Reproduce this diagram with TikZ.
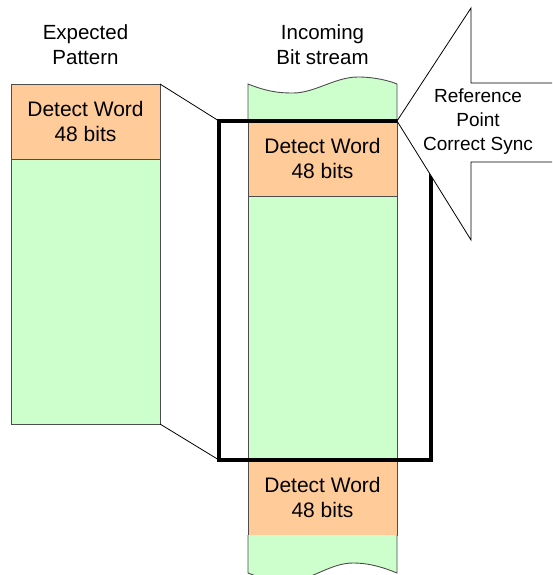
\documentclass[tikz,border=0pt]{standalone}
\usepackage{fontspec}
\setmainfont{Liberation Sans}
\usetikzlibrary{positioning}
\definecolor{wordfill}{HTML}{FFCC99}
\definecolor{bodyfill}{HTML}{CCFFCC}
\definecolor{edgegray}{HTML}{4D4D4D}

\begin{document}
\begin{tikzpicture}[x=1pt, y=-1pt,
    lbl/.style={font=\fontsize{20.5}{25}\selectfont, align=center, inner sep=0pt},
    wordbox/.style={draw=edgegray, fill=wordfill, line width=0.9pt, minimum width=149pt,
      minimum height=75pt, inner sep=0pt, outer sep=0pt, lbl, font=\fontsize{21}{25}\selectfont},
    bodybox/.style={draw=edgegray, fill=bodyfill, line width=0.9pt, minimum width=149pt,
      inner sep=0pt, outer sep=0pt}]
    \useasboundingbox (0,0) rectangle (552,575);
    \clip (0,0) rectangle (552,575);

    % Expected pattern
    \node[lbl] (expLabel) at (85.5,45) {Expected\\Pattern};
    \node[wordbox] (expWord) at (85.5,121.5) {Detect Word\\48 bits};
    \node[bodybox, minimum height=265pt, below=0pt of expWord] (expBody) {};

    % Incoming bit stream
    \node[lbl] (inLabel) at (322.5,45) {Incoming\\Bit stream};
    \filldraw[draw=edgegray, fill=bodyfill, line width=0.9pt]
      (248,121) -- (248,84) .. controls (268,92) and (280,93) .. (293,93)
      .. controls (315,93) and (335,77) .. (358,77)
      .. controls (375,77) and (390,81) .. (397,84) -- (397,121);
    \node[wordbox] (syncWord) at (322.5,158.5) {Detect Word\\48 bits};
    \node[bodybox, minimum height=264pt, below=0pt of syncWord] (streamBody) {};
    \node[wordbox, below=0pt of streamBody] (nextWord) {Detect Word\\48 bits};
    \filldraw[draw=edgegray, fill=bodyfill, line width=0.9pt]
      (nextWord.south west) -- (248,573) .. controls (258,577) and (270,581) .. (290,581)
      .. controls (310,581) and (330,563) .. (353,563)
      .. controls (370,563) and (385,568) .. (397,573) -- (nextWord.south east);

    % Sync window
    \node[draw, line width=4.5pt, outer sep=0pt, minimum width=212pt, minimum height=339pt]
      (frame) at (325,290.5) {};
    \draw[line width=0.8pt] (expWord.north east) -- (frame.north west);
    \draw[line width=0.8pt] (expBody.south east) -- (frame.south west);

    % Reference arrow
    \coordinate (tip) at (syncWord.north east);
    \fill[white] (tip) -- (471,8) -- (471,83) -- (560,83) -- (560,162) -- (471,162) -- (471,240) -- cycle;
    \draw[line width=0.8pt] (560,83) -- (471,83) -- (471,8) -- (tip) -- (471,240) -- (471,162) -- (560,162);
    \node[lbl, font=\fontsize{19}{24}\selectfont] (refText) at (478,122) {Reference\\Point\\Correct Sync};
\end{tikzpicture}
\end{document}
